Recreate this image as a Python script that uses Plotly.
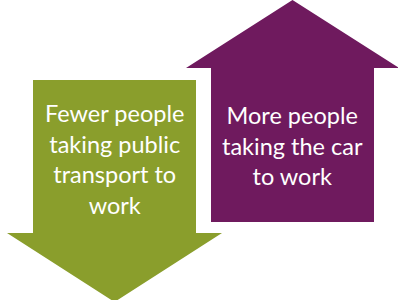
import plotly.graph_objects as go

# Arrow labels and directions
labels = ["Fewer people<br>taking public<br>transport to<br>work",
          "More people<br>taking the car<br>to work"]
directions = ["down", "up"]
colors = ["#8A9E2C", "#6F1A5E"]

# Arrow geometry (pixel space of a 398x300 canvas)
centers_x = [114.5, 292.5]
shaft_half_w = [81.5, 81.5]
head_half_w = [107.5, 106.5]
shaft_start = [80, 222]     # end opposite the head
head_base = [233, 68]
tip = [302, 0]
text_y = [159, 145]

fig = go.Figure()
for i in range(2):
    cx = centers_x[i]
    sw = shaft_half_w[i]
    hw = head_half_w[i]
    xs = [cx - sw, cx + sw, cx + sw, cx + hw, cx, cx - hw, cx - sw, cx - sw]
    ys = [shaft_start[i], shaft_start[i], head_base[i], head_base[i], tip[i],
          head_base[i], head_base[i], shaft_start[i]]
    fig.add_trace(go.Scatter(x=xs, y=ys, mode="lines", fill="toself",
                             fillcolor=colors[i], line=dict(width=0, color=colors[i]),
                             hoverinfo="skip", showlegend=False))
    fig.add_annotation(x=cx, y=text_y[i], text=labels[i], showarrow=False,
                       font=dict(family="Lato", size=23.5, color="white"),
                       align="center", xanchor="center", yanchor="middle")

fig.update_layout(width=398, height=300, margin=dict(l=0, r=0, t=0, b=0),
                  paper_bgcolor="white", plot_bgcolor="white",
                  xaxis=dict(range=[0, 398], visible=False, fixedrange=True),
                  yaxis=dict(range=[300, 0], visible=False, fixedrange=True))
fig.write_html("out.html", config={"displayModeBar": False},
               post_script="document.body.style.margin='0';document.body.style.overflow='hidden';")
